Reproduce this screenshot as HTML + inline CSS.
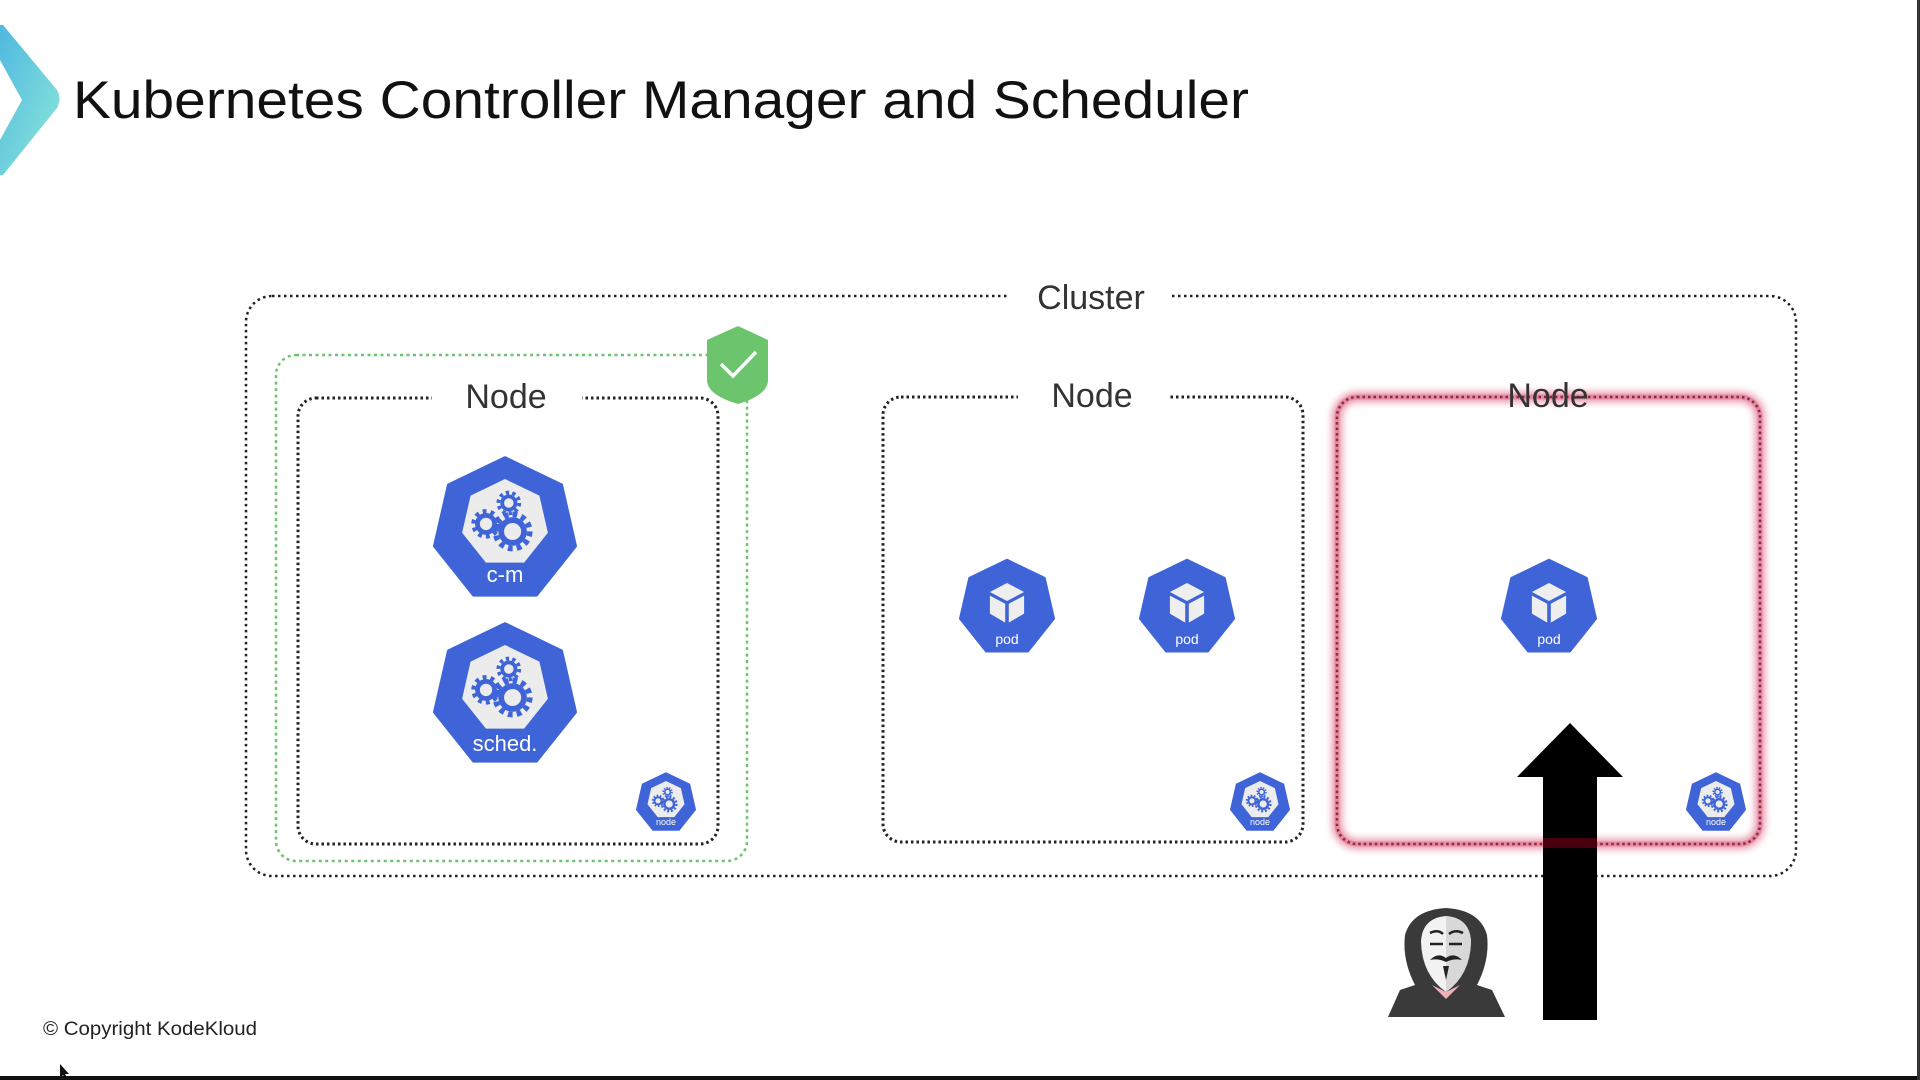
<!DOCTYPE html>
<html><head><meta charset="utf-8"><style>
html,body{margin:0;padding:0;background:#fff;width:1920px;height:1080px;overflow:hidden}
svg{display:block}
text{font-family:"Liberation Sans",sans-serif}
</style></head><body>
<svg width="1920" height="1080" viewBox="0 0 1920 1080" xmlns="http://www.w3.org/2000/svg">
<defs>
<linearGradient id="tg" x1="0" y1="0" x2="1" y2="1"><stop offset="0" stop-color="#4fb8e0"/><stop offset="1" stop-color="#8ee8d8"/></linearGradient>
<filter id="blur" x="-5%" y="-5%" width="110%" height="110%"><feGaussianBlur stdDeviation="4"/></filter>
<polygon id="hep" points="0,-1 0.7818,-0.6235 0.9749,0.2225 0.4339,0.9010 -0.4339,0.9010 -0.9749,0.2225 -0.7818,-0.6235"/>
<g id="gears" fill="none" stroke="#3f64d8">
  <circle cx="-20" cy="2" r="9" stroke-width="5"/><circle cx="-20" cy="2" r="13" stroke-width="5" stroke-dasharray="4 4.2"/>
  <circle cx="4" cy="-20" r="7" stroke-width="4"/><circle cx="4" cy="-20" r="11" stroke-width="4" stroke-dasharray="3.5 3.4"/>
  <circle cx="8" cy="10" r="12" stroke-width="6"/><circle cx="8" cy="10" r="18" stroke-width="6" stroke-dasharray="5 4.4"/>
</g>
<g id="cube">
  <polygon points="0,-20 19,-10 0,0 -19,-10" fill="#eeeeee"/>
  <polygon points="-19,-6 -2,3 -2,24 -19,14" fill="#eeeeee"/>
  <polygon points="19,-6 2,3 2,24 19,14" fill="#eeeeee"/>
</g>
</defs>

<!-- chevron -->
<path d="M0,25 L3,25 L57,90 Q62,99 57,108 L3,175 L0,175 L0,140 L22,100 L0,60 Z" fill="url(#tg)"/>

<text x="73" y="118" font-size="53" fill="#111" textLength="1176" lengthAdjust="spacingAndGlyphs">Kubernetes Controller Manager and Scheduler</text>

<!-- cluster -->
<rect x="246" y="296" width="1550" height="580" rx="26" fill="none" stroke="#222" stroke-width="2.5" stroke-dasharray="2.5 3.5"/>
<rect x="1010" y="276" width="160" height="40" fill="#fff"/>
<text x="1091" y="309" font-size="34" text-anchor="middle" fill="#333">Cluster</text>

<!-- green box -->
<rect x="276" y="355" width="471" height="506" rx="20" fill="none" stroke="#6cc46c" stroke-width="2.5" stroke-dasharray="3 3.5"/>

<!-- Node boxes -->
<rect x="298" y="398" width="420" height="446" rx="18" fill="none" stroke="#222" stroke-width="3" stroke-dasharray="2.5 3"/>
<rect x="432" y="378" width="150" height="40" fill="#fff"/>
<text x="506" y="408" font-size="34" text-anchor="middle" fill="#333">Node</text>

<rect x="883" y="397" width="420" height="445" rx="18" fill="none" stroke="#222" stroke-width="3" stroke-dasharray="2.5 3"/>
<rect x="1018" y="377" width="150" height="40" fill="#fff"/>
<text x="1092" y="407" font-size="34" text-anchor="middle" fill="#333">Node</text>

<rect x="1337" y="397" width="423" height="447" rx="20" fill="none" stroke="#e06a86" stroke-width="9" filter="url(#blur)" opacity="0.8"/>
<rect x="1337" y="397" width="423" height="447" rx="20" fill="none" stroke="#e58aa0" stroke-width="5"/>
<rect x="1337" y="397" width="423" height="447" rx="20" fill="none" stroke="#8a2b45" stroke-width="2.5" stroke-dasharray="2.5 3"/>
<text x="1548" y="407" font-size="34" text-anchor="middle" fill="#333">Node</text>

<!-- shield -->
<path d="M738,326 L768,340 L768,380 Q768,395 738,404 Q707,395 707,380 L707,340 Z" fill="#6cc46c"/>
<polyline points="721,364 733,376 756,352" fill="none" stroke="#fff" stroke-width="3.5"/>

<!-- c-m -->
<g transform="translate(505,530)">
  <use href="#hep" transform="scale(72)" fill="#3f64d8" stroke="#3f64d8" stroke-width="0.05" stroke-linejoin="round"/>
  <use href="#hep" transform="translate(0,-7) scale(44)" fill="#ececec"/>
  <use href="#gears" transform="translate(0,-8) scale(0.95)"/>
  <text x="0" y="52" font-size="22" fill="#fff" text-anchor="middle">c-m</text>
</g>
<g transform="translate(505,696)">
  <use href="#hep" transform="scale(72)" fill="#3f64d8" stroke="#3f64d8" stroke-width="0.05" stroke-linejoin="round"/>
  <use href="#hep" transform="translate(0,-7) scale(44)" fill="#ececec"/>
  <use href="#gears" transform="translate(0,-8) scale(0.95)"/>
  <text x="0" y="55" font-size="22" fill="#fff" text-anchor="middle">sched.</text>
</g>

<!-- pods -->
<g transform="translate(1007,608)">
  <use href="#hep" transform="scale(48)" fill="#3f64d8" stroke="#3f64d8" stroke-width="0.05" stroke-linejoin="round"/>
  <use href="#cube" transform="translate(0,-7) scale(0.9)"/>
  <text x="0" y="36" font-size="14" fill="#fff" text-anchor="middle">pod</text>
</g>
<g transform="translate(1187,608)">
  <use href="#hep" transform="scale(48)" fill="#3f64d8" stroke="#3f64d8" stroke-width="0.05" stroke-linejoin="round"/>
  <use href="#cube" transform="translate(0,-7) scale(0.9)"/>
  <text x="0" y="36" font-size="14" fill="#fff" text-anchor="middle">pod</text>
</g>
<g transform="translate(1549,608)">
  <use href="#hep" transform="scale(48)" fill="#3f64d8" stroke="#3f64d8" stroke-width="0.05" stroke-linejoin="round"/>
  <use href="#cube" transform="translate(0,-7) scale(0.9)"/>
  <text x="0" y="36" font-size="14" fill="#fff" text-anchor="middle">pod</text>
</g>

<!-- node icons -->
<g transform="translate(666,803)">
  <use href="#hep" transform="scale(30)" fill="#3f64d8" stroke="#3f64d8" stroke-width="0.05" stroke-linejoin="round"/>
  <use href="#hep" transform="translate(0,-3) scale(19)" fill="#ececec"/>
  <use href="#gears" transform="translate(0,-3) scale(0.4)"/>
  <text x="0" y="22" font-size="9" fill="#fff" text-anchor="middle">node</text>
</g>
<g transform="translate(1260,803)">
  <use href="#hep" transform="scale(30)" fill="#3f64d8" stroke="#3f64d8" stroke-width="0.05" stroke-linejoin="round"/>
  <use href="#hep" transform="translate(0,-3) scale(19)" fill="#ececec"/>
  <use href="#gears" transform="translate(0,-3) scale(0.4)"/>
  <text x="0" y="22" font-size="9" fill="#fff" text-anchor="middle">node</text>
</g>
<g transform="translate(1716,803)">
  <use href="#hep" transform="scale(30)" fill="#3f64d8" stroke="#3f64d8" stroke-width="0.05" stroke-linejoin="round"/>
  <use href="#hep" transform="translate(0,-3) scale(19)" fill="#ececec"/>
  <use href="#gears" transform="translate(0,-3) scale(0.4)"/>
  <text x="0" y="22" font-size="9" fill="#fff" text-anchor="middle">node</text>
</g>

<!-- arrow -->
<polygon points="1570,723 1623,777 1597,777 1597,1020 1543,1020 1543,777 1517,777" fill="#000"/>
<rect x="1543" y="838" width="54" height="10" fill="#7a0018" opacity="0.6"/>

<!-- hacker -->
<path d="M1388,1017 L1400,990 L1415,985 Q1402,960 1405,935 Q1412,910 1446,908 Q1480,910 1487,935 Q1490,960 1477,985 L1492,990 L1505,1017 Z" fill="#3a3a3a"/>
<path d="M1421,942 Q1422,918 1446,916 Q1470,918 1471,942 Q1470,975 1446,992 Q1422,975 1421,942 Z" fill="#f2f2f2"/>
<path d="M1446,916 Q1470,918 1471,942 Q1470,975 1446,992 Z" fill="#d8d8d8"/>
<path d="M1430,933 Q1438,929 1443,934 M1449,934 Q1455,929 1463,933 M1430,944 L1443,944 M1449,944 L1462,944" stroke="#222" stroke-width="2.5" fill="none"/>
<path d="M1430,960 Q1438,952 1446,958 Q1454,952 1462,960 Q1454,958 1446,962 Q1438,958 1430,960 Z" fill="#222"/>
<polygon points="1443,966 1449,966 1446,980" fill="#222"/>
<polygon points="1432,985 1446,999 1460,985 1446,992" fill="#f0b0b8"/>

<!-- footer -->
<text x="43" y="1035" font-size="19" fill="#222" textLength="214" lengthAdjust="spacingAndGlyphs">© Copyright KodeKloud</text>
<rect x="0" y="1076" width="1920" height="4" fill="#111"/>
<rect x="1917" y="0" width="3" height="1080" fill="#333"/>
<polygon points="60,1064 60,1078 63,1075 66,1080 68,1079 65,1074 69,1074" fill="#111"/>
</svg>
</body></html>
